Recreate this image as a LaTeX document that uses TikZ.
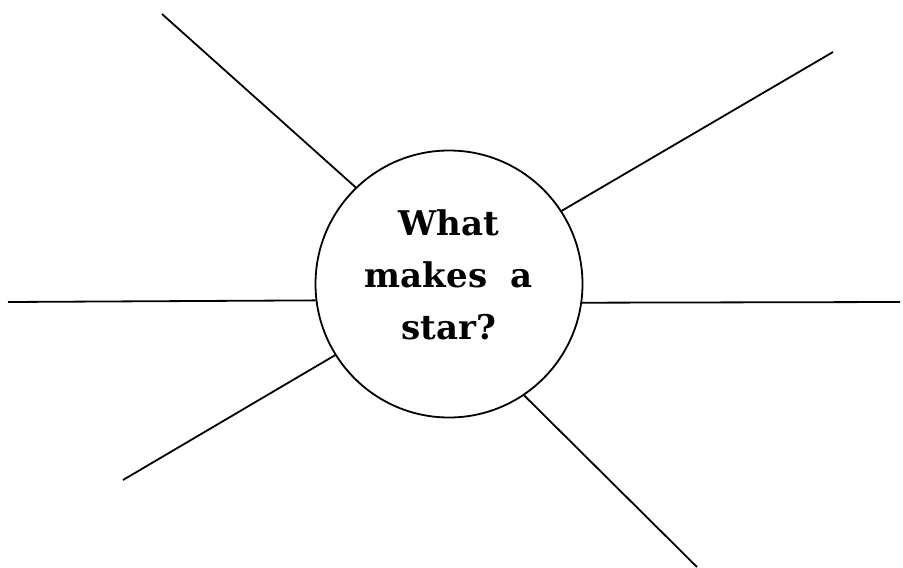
\documentclass[tikz,border=0pt]{standalone}
\usepackage{fontspec}
\setmainfont{DejaVu Serif}
\usepackage{tikz}
\usetikzlibrary{positioning}
\tikzset{
  hub/.style={circle, draw=black, fill=white, minimum size=267pt,
    inner sep=0pt, line width=1.8pt},
  hubtext/.style={align=center, font=\bfseries\fontsize{34}{52}\selectfont},
  spoke/.style={line width=1.8pt, color=black}
}
\begin{document}
\begin{tikzpicture}[x=1pt, y=1pt]
  \useasboundingbox (0,0) rectangle (903,-568);
  \node[hub] (star) at (449,-284) {};
  \node[hubtext] (q) at (449,-275) {What\\makes\ \ a\\star?};
  % free ends of the spokes
  \coordinate (e1) at (162,-14);
  \coordinate (e2) at (833,-52);
  \coordinate (e3) at (8,-302);
  \coordinate (e4) at (900,-302);
  \coordinate (e5) at (123,-480);
  \coordinate (e6) at (697,-567);
  \draw[spoke] (star.134) -- (e1);
  \draw[spoke] (star.33.6) -- (e2);
  \draw[spoke] (star.187.7) -- (e3);
  \draw[spoke] (star.352.4) -- (e4);
  \draw[spoke] (star.212.9) -- (e5);
  \draw[spoke] (star.304) -- (e6);
\end{tikzpicture}
\end{document}
